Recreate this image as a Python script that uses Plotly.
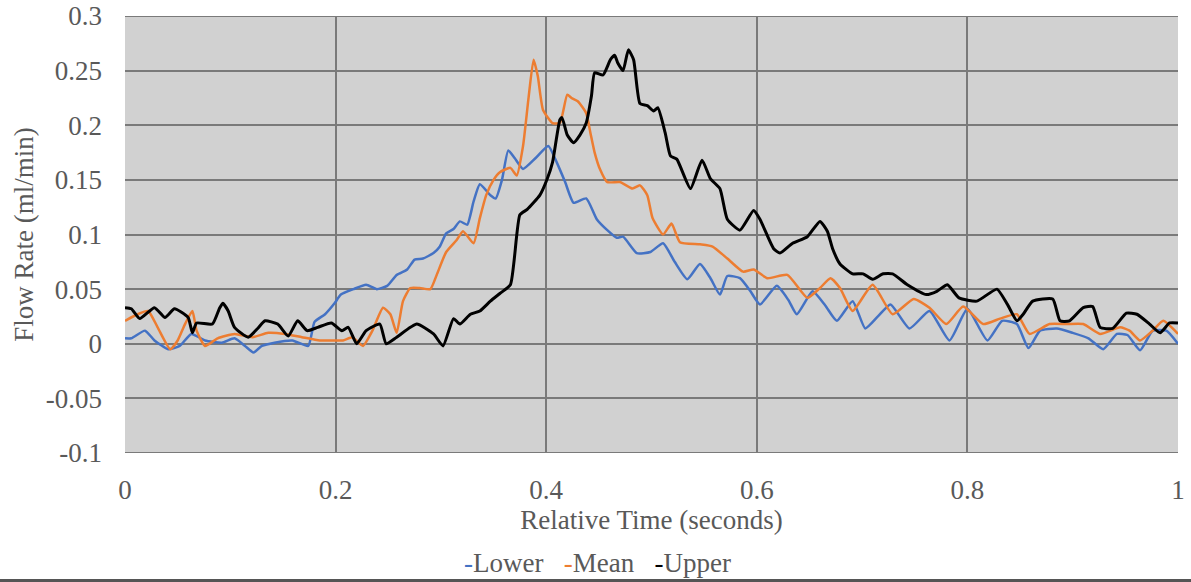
import plotly.graph_objects as go

# ---- data ----
lower_t = [0, .006, .019, .028, .041, .052, .063, .076, .092, .104, .114, .122, .130, .142, .159, .174,
           .180, .190, .199, .205, .217, .229, .239, .249, .258, .268, .275, .283, .293, .299, .305, .312,
           .318, .325, .331, .337, .347, .352, .358, .364, .370, .378, .390, .402, .410, .418, .426, .438,
           .448, .458, .467, .473, .486, .499, .511, .522, .534, .546, .556, .565, .572, .584, .594, .603,
           .619, .630, .638, .653, .665, .676, .691, .703, .715, .727, .745, .764, .783, .800, .819, .833,
           .847, .858, .869, .885, .900, .915, .929, .942, .952, .964, .976, .989, 1.0]
lower_v = [.005, .005, .012, .003, -.005, -.002, .009, .003, .001, .005, -.002, -.008, -.002, .001, .003, -.002,
           .020, .027, .037, .045, .050, .054, .050, .053, .063, .068, .077, .078, .083, .089, .101, .105,
           .112, .109, .130, .146, .136, .133, .150, .177, .170, .160, .170, .181, .166, .148, .129, .133,
           .114, .104, .097, .098, .083, .084, .092, .075, .059, .073, .060, .045, .062, .060, .048, .036,
           .053, .040, .027, .048, .035, .021, .039, .014, .025, .036, .014, .030, .003, .032, .003, .021,
           .018, -.004, .012, .014, .010, .005, -.005, .009, .008, -.006, .012, .012, 0]

mean_t = [0, .012, .022, .031, .043, .050, .057, .064, .068, .076, .088, .104, .121, .136, .152, .168,
          .185, .196, .207, .216, .226, .235, .245, .252, .258, .264, .271, .280, .290, .296, .305, .315,
          .321, .331, .337, .343, .350, .356, .366, .372, .378, .383, .388, .392, .397, .406, .413, .420,
          .424, .430, .438, .442, .446, .451, .458, .470, .482, .489, .496, .501, .511, .519, .527, .546,
          .558, .572, .587, .597, .610, .629, .648, .660, .670, .679, .691, .710, .729, .749, .764, .780,
          .796, .815, .831, .847, .859, .878, .894, .910, .926, .945, .954, .964, .976, .986, 1.0]
mean_v = [.021, .027, .030, .015, -.005, .003, .018, .030, .012, -.002, .005, .009, .006, .010, .009, .006,
          .003, .003, .003, .006, -.002, .012, .033, .027, .010, .039, .051, .051, .050, .063, .084, .095,
          .103, .092, .115, .136, .150, .157, .161, .154, .181, .223, .260, .245, .214, .202, .202, .228,
          .225, .222, .211, .193, .175, .160, .148, .148, .142, .145, .136, .115, .100, .110, .093, .091,
          .089, .078, .066, .068, .060, .063, .042, .051, .060, .051, .030, .054, .027, .041, .033, .018,
          .034, .018, .023, .027, .009, .018, .018, .018, .009, .015, .012, .003, .012, .021, .009]

upper_t = [0, .006, .014, .028, .038, .047, .060, .064, .068, .083, .090, .093, .098, .104, .117, .126,
           .133, .145, .155, .164, .173, .183, .196, .206, .212, .220, .229, .242, .248, .258, .277, .293,
           .302, .312, .318, .328, .337, .347, .356, .366, .375, .382, .394, .401, .406, .413, .415, .420,
           .426, .432, .438, .443, .446, .454, .461, .465, .468, .473, .478, .483, .489, .496, .502, .506,
           .513, .518, .524, .537, .548, .556, .565, .572, .584, .597, .603, .616, .622, .634, .648, .660,
           .667, .672, .679, .691, .701, .710, .720, .729, .743, .761, .771, .781, .792, .809, .828, .838,
           .847, .853, .862, .881, .888, .897, .910, .919, .926, .938, .951, .961, .973, .983, .992, 1.0]
upper_v = [.033, .032, .023, .033, .024, .032, .024, .010, .019, .018, .033, .037, .030, .015, .006, .014,
           .021, .018, .007, .021, .012, .015, .019, .012, .015, 0, .012, .018, 0, .006, .018, .009,
           -.002, .023, .018, .027, .030, .039, .046, .054, .118, .123, .136, .151, .166, .205, .207, .191,
           .184, .191, .202, .227, .248, .246, .260, .264, .257, .250, .269, .260, .220, .218, .213, .216,
           .193, .172, .169, .142, .168, .151, .142, .114, .104, .122, .114, .087, .083, .092, .098, .112,
           .103, .087, .073, .064, .064, .059, .064, .064, .054, .045, .048, .054, .042, .039, .050, .036,
           .021, .027, .039, .041, .021, .021, .033, .034, .015, .014, .028, .027, .018, .010, .019, .019]

series_names = ["Lower", "Mean", "Upper"]
series_colors = ["#4472C4", "#ED7D31", "#000000"]
x_ticks = [0, 0.2, 0.4, 0.6, 0.8, 1]
x_labels = ["0", "0.2", "0.4", "0.6", "0.8", "1"]
y_ticks = [-0.1, -0.05, 0, 0.05, 0.1, 0.15, 0.2, 0.25, 0.3]
y_labels = ["-0.1", "-0.05", "0", "0.05", "0.1", "0.15", "0.2", "0.25", "0.3"]

FONT = "Liberation Serif"
TXT = "#595959"
GRID = "#7a7a7a"

fig = go.Figure()
for name, color, t, v, w in zip(series_names, series_colors,
                                [lower_t, mean_t, upper_t],
                                [lower_v, mean_v, upper_v],
                                [2.5, 2.5, 3]):
    fig.add_trace(go.Scatter(x=t, y=v, mode="lines", name=name,
                             line=dict(color=color, width=w, shape="spline", smoothing=0.5),
                             showlegend=False))

legend_text = "\u00a0\u00a0\u00a0".join(
    f"<span style='color:{c}'>-</span>{n}" for n, c in zip(series_names, series_colors))
fig.add_annotation(text=legend_text, xref="paper", yref="paper", x=0.449, y=-0.251,
                   xanchor="center", yanchor="middle", showarrow=False,
                   font=dict(family=FONT, size=27, color=TXT))

# top and bottom horizontal grid lines at the range edges
for yv in (y_ticks[0], y_ticks[-1]):
    fig.add_shape(type="line", xref="paper", yref="y", x0=0, x1=1, y0=yv, y1=yv,
                  layer="below", line=dict(color=GRID, width=2))

# dark rule at the bottom of the image
fig.add_shape(type="line", xref="paper", yref="paper", x0=-0.2, x1=1.2, y0=-0.293, y1=-0.293,
              line=dict(color="#555555", width=4))

fig.update_layout(
    width=1191, height=582,
    margin=dict(l=125, r=13, t=16, b=129),
    paper_bgcolor="white", plot_bgcolor="#d1d1d1",
    font=dict(family=FONT, size=27, color=TXT),
    xaxis=dict(range=[0, 1], tickvals=x_ticks, ticktext=x_labels, automargin=False,
               showgrid=False, zeroline=False, showline=False, ticks="",
               ticklabelstandoff=18, ticklabeloverflow="allow",
               minor=dict(tickvals=[0.2, 0.4, 0.6, 0.8], showgrid=True, gridcolor=GRID, gridwidth=2),
               title=dict(text="Relative Time (seconds)", standoff=6,
                          font=dict(family=FONT, size=27, color=TXT))),
    yaxis=dict(range=[-0.1, 0.3], tickvals=y_ticks, ticktext=y_labels, automargin=False,
               showgrid=True, gridcolor=GRID, gridwidth=2, zeroline=False, showline=False,
               ticks="", ticklabelstandoff=22, ticklabeloverflow="allow",
               title=dict(text="Flow Rate (ml/min)", standoff=4,
                          font=dict(family=FONT, size=27, color=TXT))),
)

fig.write_html("out.html")
